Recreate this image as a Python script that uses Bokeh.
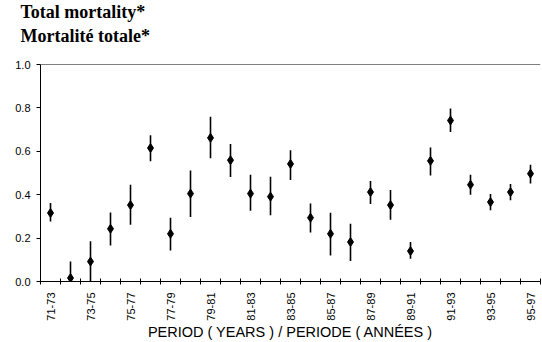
from bokeh.plotting import figure
from bokeh.models import Range1d, FixedTicker, Span, Title
from bokeh.embed import file_html
from bokeh.resources import INLINE
from math import pi

periods = ["71-73", "72-74", "73-75", "74-76", "75-77", "76-78", "77-79", "78-80",
           "79-81", "80-82", "81-83", "82-84", "83-85", "84-86", "85-87", "86-88",
           "87-89", "88-90", "89-91", "90-92", "91-93", "92-94", "93-95", "94-96", "95-97"]
rate = [0.316, 0.016, 0.092, 0.243, 0.352, 0.615, 0.220, 0.405, 0.662, 0.559,
        0.405, 0.391, 0.542, 0.294, 0.220, 0.182, 0.412, 0.352, 0.140, 0.556,
        0.742, 0.446, 0.366, 0.412, 0.497]
upper = [0.362, 0.092, 0.185, 0.318, 0.446, 0.674, 0.294, 0.512, 0.759, 0.634,
         0.492, 0.483, 0.605, 0.359, 0.317, 0.266, 0.463, 0.422, 0.182, 0.617,
         0.797, 0.492, 0.403, 0.449, 0.538]
lower = [0.277, 0.0, 0.0, 0.166, 0.262, 0.554, 0.143, 0.297, 0.568, 0.482,
         0.326, 0.305, 0.468, 0.226, 0.120, 0.094, 0.357, 0.285, 0.105, 0.489,
         0.689, 0.400, 0.328, 0.374, 0.452]
y_ticks = [0.0, 0.2, 0.4, 0.6, 0.8, 1.0]
y_tick_labels = ["0.0", "0.2", "0.4", "0.6", "0.8", "1.0"]
title_en = "Total mortality*"
title_fr = "Mortalité totale*"
x_title = "PERIOD ( YEARS ) / PERIODE ( ANNÉES )"

idx = list(range(len(periods)))
labelled = idx[::2]

p = figure(width=542, height=342,
           x_range=Range1d(-0.5, len(periods) - 0.5), y_range=Range1d(0, 1.0),
           output_backend="svg", toolbar_location=None,
           min_border_left=40, min_border_right=2, min_border_top=64, min_border_bottom=61)
p.xgrid.visible = False
p.ygrid.visible = False
p.outline_line_color = None
p.background_fill_color = "white"
p.border_fill_color = "white"

xa = p.xaxis[0]
xa.ticker = FixedTicker(ticks=labelled, minor_ticks=[i - 0.5 for i in range(len(periods) + 1)])
xa.major_label_overrides = {i: periods[i] for i in labelled}
xa.major_tick_line_color = None
xa.major_tick_in = 0
xa.major_tick_out = 3
xa.minor_tick_in = 3
xa.minor_tick_out = 3
xa.minor_tick_line_color = "black"
xa.minor_tick_line_width = 1
xa.axis_line_color = "black"
xa.axis_line_width = 1
xa.major_label_orientation = pi / 2
xa.major_label_standoff = 8
xa.major_label_text_font = "Liberation Sans"
xa.major_label_text_font_size = "11px"
xa.major_label_text_color = "black"
xa.axis_label = x_title
xa.axis_label_text_font = "Liberation Sans"
xa.axis_label_text_font_size = "14.5px"
xa.axis_label_text_font_style = "normal"
xa.axis_label_text_color = "black"
xa.axis_label_standoff = 0

ya = p.yaxis[0]
ya.ticker = FixedTicker(ticks=y_ticks, minor_ticks=[])
ya.major_label_overrides = {t: l for t, l in zip(y_ticks, y_tick_labels)}
ya.major_tick_in = 0
ya.major_tick_out = 4
ya.major_tick_line_color = "black"
ya.axis_line_color = "black"
ya.axis_line_width = 1
ya.major_label_standoff = 6
ya.major_label_text_font = "Liberation Sans"
ya.major_label_text_font_size = "11px"
ya.major_label_text_color = "black"

p.add_layout(Span(location=1.0, dimension="width", line_color="black", line_width=1))

p.segment(x0=idx, y0=lower, x1=idx, y1=upper, line_color="black", line_width=1.6)
p.scatter(idx, rate, marker="diamond", size=9, fill_color="black", line_color="black")

p.add_layout(Title(text=title_fr, align="left", offset=-20, standoff=38,
                   text_font="Liberation Serif", text_font_style="bold",
                   text_font_size="18px", text_color="black"), "above")
p.add_layout(Title(text=title_en, align="left", offset=-20, standoff=-34,
                   text_font="Liberation Serif", text_font_style="bold",
                   text_font_size="18px", text_color="black"), "above")

open("out.html", "w").write(file_html(p, INLINE))
